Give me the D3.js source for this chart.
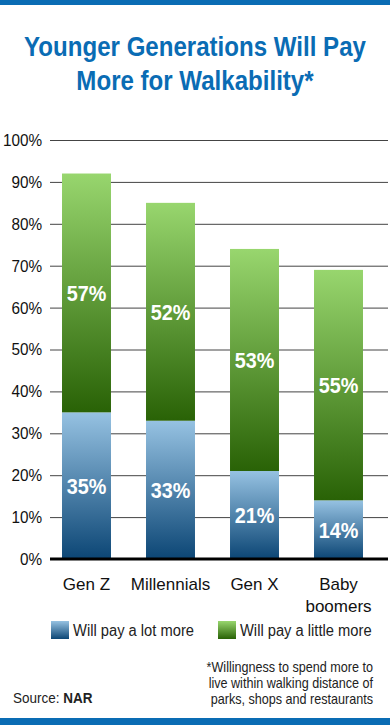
<!DOCTYPE html>
<html>
<head>
<meta charset="utf-8">
<script src="https://cdn.jsdelivr.net/npm/d3@7"></script>
<style>
  body { margin: 0; background: #fff; }
  svg text { font-family: "Liberation Sans", Arial, sans-serif; }
</style>
</head>
<body>
<svg id="chart" width="390" height="725"></svg>
<script>
// data
const categories = ['Gen Z', 'Millennials', 'Gen X', 'Baby boomers'];
const payLotMore = [35, 33, 21, 14];
const payLittleMore = [57, 52, 53, 55];
const yTicks = [0, 10, 20, 30, 40, 50, 60, 70, 80, 90, 100];
const legendLabels = ['Will pay a lot more', 'Will pay a little more'];
const noteLines = ['*Willingness to spend more to', 'live within walking distance of', 'parks, shops and restaurants'];

const width = 390, height = 725;
const margin = { top: 140, left: 50, right: 2, bottom: 166 };
const brand = '#0a6cb4';

const svg = d3.select('#chart');

// narrow the glyphs horizontally around the text's own x
const squeeze = (sel, sx) => {
  sel.each(function() {
    const t = d3.select(this);
    const tx = +t.attr('x') || 0;
    t.attr('transform', `translate(${tx},0) scale(${sx},1) translate(${-tx},0)`);
  });
};

// gradients
const defs = svg.append('defs');
const addGrad = (id, top, bottom) => {
  const g = defs.append('linearGradient')
      .attr('id', id)
      .attr('x1', 0).attr('y1', 0)
      .attr('x2', 0).attr('y2', 1);
  g.append('stop').attr('offset', '0%').attr('stop-color', top);
  g.append('stop').attr('offset', '100%').attr('stop-color', bottom);
};
addGrad('gBlue', '#96c2e2', '#0c4675');
addGrad('gGreen', '#98d66e', '#296206');

// top & bottom bands
svg.append('rect').attr('x', 0).attr('y', 0).attr('width', width).attr('height', 5).attr('fill', brand);
svg.append('rect').attr('x', 0).attr('y', 718).attr('width', width).attr('height', 7).attr('fill', brand);

// title
['Younger Generations Will Pay', 'More for Walkability*'].forEach((line, i) => {
  svg.append('text')
      .attr('x', 195).attr('y', 56 + i * 34)
      .attr('text-anchor', 'middle')
      .attr('fill', brand)
      .attr('font-size', 28)
      .attr('font-weight', 'bold')
      .text(line)
      .call(squeeze, 0.86);
});

const x = d3.scaleBand()
    .domain(categories)
    .range([margin.left, 375])
    .paddingInner(0.417)
    .paddingOuter(0.143);

const y = d3.scaleLinear()
    .domain([0, 100])
    .range([height - margin.bottom, margin.top]);

// grid + ticks
const yAxis = svg.append('g')
    .attr('transform', `translate(${margin.left},0)`)
    .call(d3.axisLeft(y).tickValues(yTicks).tickFormat(d => d + '%').tickSize(-(width - margin.left - margin.right)).tickPadding(8));
yAxis.select('.domain').remove();
yAxis.selectAll('.tick line').attr('stroke', '#444').attr('stroke-width', 1);
yAxis.selectAll('.tick text')
    .attr('fill', '#111')
    .attr('font-size', 17)
    .attr('font-family', null)
    .call(squeeze, 0.9);

// bars
const bars = svg.append('g');
categories.forEach((c, i) => {
  const lot = payLotMore[i];
  const little = payLittleMore[i];
  const cx = x(c) + x.bandwidth() / 2;
  bars.append('rect')
      .attr('x', x(c)).attr('width', x.bandwidth())
      .attr('y', y(lot)).attr('height', y(0) - y(lot))
      .attr('fill', 'url(#gBlue)');
  bars.append('rect')
      .attr('x', x(c)).attr('width', x.bandwidth())
      .attr('y', y(lot + little)).attr('height', y(lot) - y(lot + little))
      .attr('fill', 'url(#gGreen)');
  [[lot, (y(0) + y(lot)) / 2], [little, (y(lot) + y(lot + little)) / 2]].forEach(([v, my]) => {
    bars.append('text')
        .attr('x', cx)
        .attr('y', my + 8)
        .attr('text-anchor', 'middle')
        .attr('fill', '#fff').attr('font-weight', 'bold').attr('font-size', 22)
        .text(v + '%')
        .call(squeeze, 0.9);
  });
});

// baseline
svg.append('line')
    .attr('x1', margin.left).attr('x2', width - margin.right)
    .attr('y1', y(0)).attr('y2', y(0))
    .attr('stroke', '#000').attr('stroke-width', 3);

// category labels
categories.forEach(c => {
  const words = c === 'Baby boomers' ? ['Baby', 'boomers'] : [c];
  words.forEach((w, k) => {
    svg.append('text')
        .attr('x', x(c) + x.bandwidth() / 2).attr('y', 590 + k * 22)
        .attr('text-anchor', 'middle')
        .attr('fill', '#111')
        .attr('font-size', 17)
        .text(w);
  });
});

// legend
const legend = svg.append('g');
[['url(#gBlue)', 51], ['url(#gGreen)', 218]].forEach(([fill, lx], i) => {
  legend.append('rect').attr('x', lx).attr('y', 621).attr('width', 18).attr('height', 18).attr('fill', fill);
  legend.append('text').attr('x', lx + 22).attr('y', 636)
      .attr('font-size', 16).attr('fill', '#222')
      .text(legendLabels[i])
      .call(squeeze, 0.92);
});

// note
noteLines.forEach((l, i) => {
  svg.append('text')
      .attr('x', 373).attr('y', 672 + i * 16)
      .attr('text-anchor', 'end')
      .attr('font-size', 14).attr('fill', '#222')
      .text(l)
      .call(squeeze, 0.9);
});

const src = svg.append('text').attr('x', 13).attr('y', 703).attr('font-size', 15).attr('fill', '#222');
src.append('tspan').text('Source: ');
src.append('tspan').attr('font-weight', 'bold').text('NAR');
src.call(squeeze, 0.9);
</script>
</body>
</html>
